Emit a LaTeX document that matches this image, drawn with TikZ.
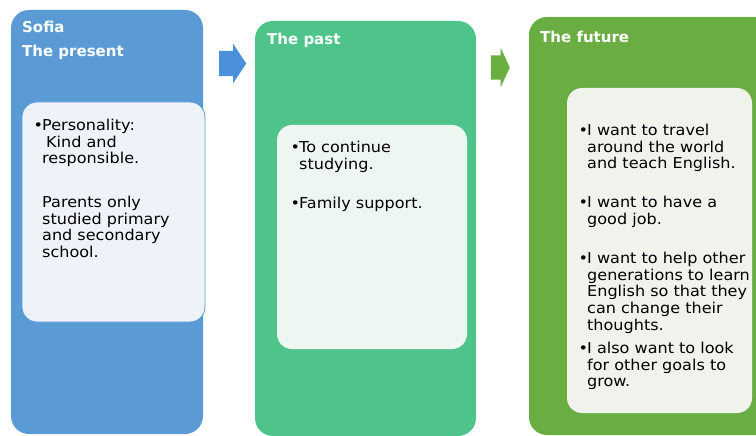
\documentclass[tikz,border=0pt]{standalone}
\usepackage{fontspec}
\setmainfont{DejaVu Sans}
\newfontfamily\bodyfont{DejaVu Sans}[FakeStretch=1.07]
\usetikzlibrary{shapes.arrows}

\definecolor{presentblue}{HTML}{5B9BD5}
\definecolor{pastgreen}{HTML}{4EC48A}
\definecolor{futuregreen}{HTML}{6AAD42}
\definecolor{presentpale}{HTML}{EEF3FA}
\definecolor{pastpale}{HTML}{EEF6F2}
\definecolor{futurepale}{HTML}{F0F2EC}
\definecolor{arrowblue}{HTML}{4A90DA}
\definecolor{arrowgreen}{HTML}{6AAF40}

\newcommand\bul{\llap{•\kern-1pt}}

\tikzset{
  outerbox/.style={fill=#1, rounded corners=18pt},
  innerbox/.style={fill=#1, rounded corners=15pt},
  boxtitle/.style={anchor=base west, inner sep=0pt, text=white,
    font=\bfseries\fontsize{15}{16.8}\selectfont},
  boxtext/.style={anchor=north west, align=left, inner sep=0pt,
    font=\bodyfont\fontsize{15}{16.8}\selectfont},
  blockarrow/.style={single arrow, fill=#1, draw=none, inner sep=0pt,
    text height=0pt, text depth=0pt}
}

\begin{document}
\begin{tikzpicture}[x=1pt, y=-1pt]
    \useasboundingbox (0,0) rectangle (756,436);

    % the present
    \fill[outerbox=presentblue] (11,10) rectangle (203,434);
    \filldraw[innerbox=presentpale, draw=presentblue, line width=0.8pt] (22,102) rectangle (205,322);
    \node[boxtitle] (sofia) at (22,33) {Sofia};
    \node[boxtitle] (present) at (22,57) {The present};
    \node[boxtext] (presenttext) at (42,118.4) {\strut\bul Personality:\\
        \hspace{4pt}Kind and\\
        responsible.\\[26.6pt]
        Parents only\\
        studied primary\\
        and secondary\\
        school.};

    \node[blockarrow=arrowblue, text width=1pt, text height=25pt, minimum height=27pt, minimum width=39pt,
        single arrow head extend=7pt, single arrow tip angle=113] (arrowone) at (228.5,63.5) {};

    % the past
    \fill[outerbox=pastgreen] (255,21) rectangle (476,436);
    \fill[innerbox=pastpale] (277,125) rectangle (467,349);
    \node[boxtitle] (past) at (267,45) {The past};
    \node[boxtext] (pasttext) at (299,140.4) {\strut\bul To continue\\
        studying.\\[22.4pt]
        \bul Family support.};

    \node[blockarrow=arrowgreen, text width=1pt, text height=24pt, minimum height=19pt, minimum width=39pt,
        single arrow head extend=7.5pt, single arrow tip angle=130] (arrowtwo) at (497.5,67.5) {};

    % the future
    \fill[outerbox=futuregreen] (529,17) rectangle (776,435);
    \fill[innerbox=futurepale] (567,88) rectangle (752,413);
    \node[boxtitle] (future) at (540,43) {The future};
    \node[boxtext] (futuretext) at (587,123.4) {\strut\bul I want to travel\\
        around the world\\
        and teach English.\\[21.6pt]
        \bul I want to have a\\
        good job.\\[22.4pt]
        \bul I want to help other\\
        generations to learn\\
        English so that they\\
        can change their\\
        thoughts.\\[6pt]
        \bul I also want to look\\
        for other goals to\\
        grow.};
\end{tikzpicture}
\end{document}
